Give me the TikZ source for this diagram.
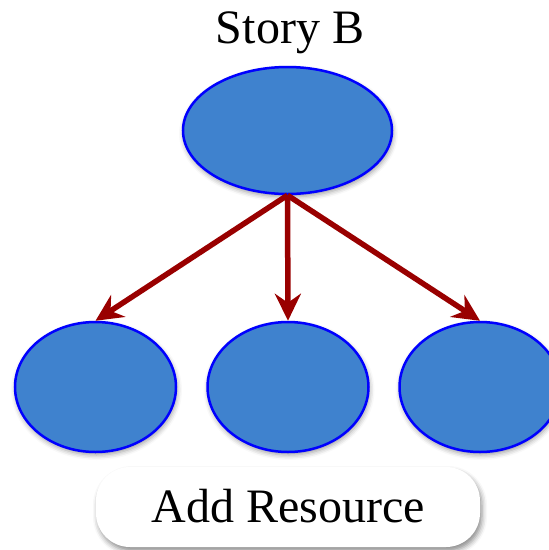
\documentclass[tikz,border=0pt]{standalone}
\usepackage{fontspec}
\setmainfont{Liberation Serif}
\usetikzlibrary{shapes.geometric,arrows.meta,shadows.blur}
\definecolor{ellfill}{HTML}{3F82CE}
\definecolor{arrred}{HTML}{990000}
\begin{document}
\begin{tikzpicture}[x=1pt,y=-1pt,
  blob/.style={ellipse,draw=blue,line width=2.5pt,fill=ellfill,inner sep=0pt,
    blur shadow={shadow xshift=1pt,shadow yshift=-3pt,shadow blur radius=5pt,shadow opacity=40}},
  link/.style={draw=arrred,line width=5.5pt,-{Stealth[length=27pt,width=26pt,inset=9pt]}},
  btn/.style={rectangle,rounded corners=34pt,fill=white,minimum width=384pt,minimum height=80pt,
    blur shadow={shadow xshift=2pt,shadow yshift=-4pt,shadow blur radius=5pt,shadow opacity=45}},
  lbl/.style={font=\fontsize{48}{50}\selectfont,inner sep=0pt}]
\useasboundingbox (0,0) rectangle (549,550);
\clip (0,0) rectangle (549,550);
\node[lbl,anchor=base] (title) at (290,43) {Story B};
\node[blob,minimum width=209pt,minimum height=127pt] (top) at (287.5,130.5) {};
\node[blob,minimum width=161pt,minimum height=130pt] (l) at (95.5,387) {};
\node[blob,minimum width=161pt,minimum height=130pt] (m) at (288,387) {};
\node[blob,minimum width=161pt,minimum height=130pt] (r) at (480,387) {};
\node[btn] (add) at (288,507) {};
\node[lbl,anchor=base] (addtext) at (288,522) {Add Resource};
\coordinate (s) at (top.south);
\draw[link] (s) -- (l.north);
\draw[link] (s) -- (m.north);
\draw[link] (s) -- (r.north);
\end{tikzpicture}
\end{document}
